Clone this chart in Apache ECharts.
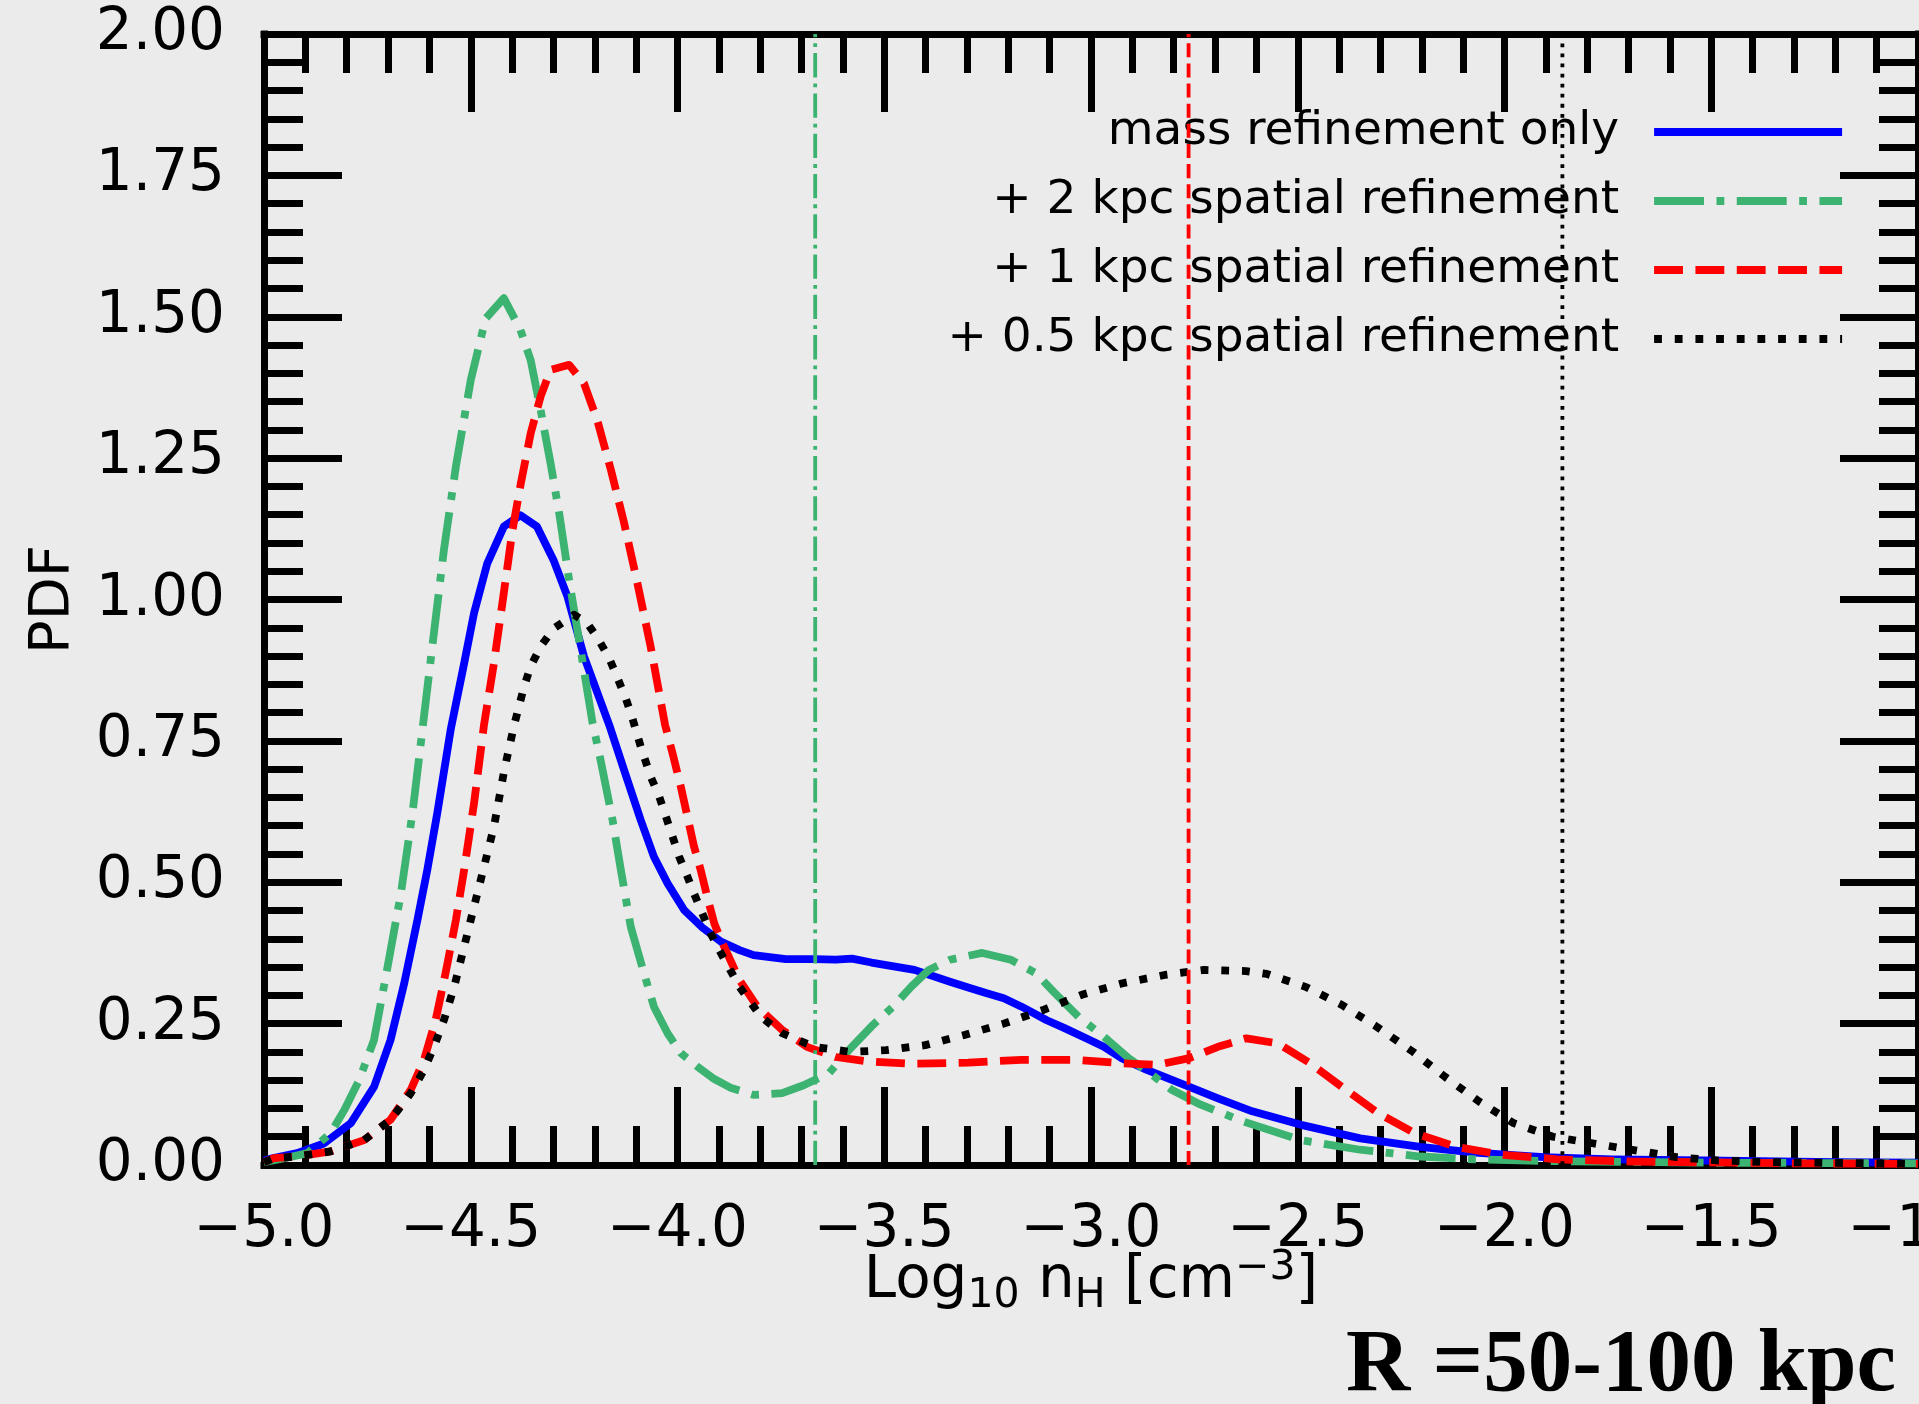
<!DOCTYPE html>
<html><head><meta charset="utf-8">
<script src="https://cdn.jsdelivr.net/npm/echarts@6/dist/echarts.min.js"></script>
<style>html,body{margin:0;padding:0;background:#ebebeb;}#c{width:1919px;height:1404px;}</style>
</head><body><div id="c"></div>
<script>
// ---------- data ----------
const seriesNames = ['mass refinement only', '+ 2 kpc spatial refinement', '+ 1 kpc spatial refinement', '+ 0.5 kpc spatial refinement'];
const xRange = [-5.0, -1.0];
const yRange = [0.0, 2.0];
const xMajorStep = 0.5;
const yMajorStep = 0.25;
const thresholds = [-3.667, -2.764, -1.86]; // vertical lines: 2 kpc, 1 kpc, 0.5 kpc

const massOnly = [[-5.00,0.008],[-4.98,0.012],[-4.92,0.021],[-4.855,0.038],[-4.79,0.074],[-4.734,0.138],[-4.694,0.221],[-4.661,0.321],[-4.629,0.433],[-4.605,0.522],[-4.581,0.622],[-4.548,0.772],[-4.516,0.887],[-4.492,0.976],[-4.46,1.064],[-4.42,1.129],[-4.38,1.149],[-4.34,1.129],[-4.30,1.070],[-4.266,1.005],[-4.226,0.899],[-4.165,0.778],[-4.129,0.698],[-4.089,0.610],[-4.057,0.545],[-4.024,0.498],[-3.984,0.451],[-3.94,0.420],[-3.895,0.395],[-3.85,0.380],[-3.816,0.371],[-3.738,0.364],[-3.667,0.364],[-3.617,0.363],[-3.578,0.365],[-3.531,0.358],[-3.427,0.345],[-3.341,0.324],[-3.297,0.314],[-3.254,0.304],[-3.211,0.295],[-3.168,0.280],[-3.107,0.256],[-3.064,0.242],[-3.012,0.224],[-2.969,0.209],[-2.926,0.189],[-2.865,0.168],[-2.762,0.138],[-2.693,0.118],[-2.61,0.095],[-2.492,0.071],[-2.349,0.047],[-2.204,0.032],[-2.071,0.022],[-1.905,0.014],[-1.739,0.010],[-1.518,0.008],[-1.2,0.005],[-1.0,0.004]];

const spatial2kpc = [[-5.0,0.005],[-4.95,0.012],[-4.895,0.021],[-4.839,0.056],[-4.806,0.097],[-4.77,0.150],[-4.734,0.221],[-4.698,0.363],[-4.669,0.480],[-4.641,0.622],[-4.617,0.769],[-4.593,0.917],[-4.565,1.087],[-4.536,1.235],[-4.50,1.388],[-4.464,1.497],[-4.42,1.533],[-4.38,1.477],[-4.355,1.423],[-4.331,1.335],[-4.307,1.241],[-4.286,1.152],[-4.262,1.034],[-4.238,0.928],[-4.206,0.784],[-4.186,0.716],[-4.157,0.610],[-4.137,0.522],[-4.113,0.421],[-4.081,0.339],[-4.057,0.280],[-4.024,0.233],[-3.992,0.198],[-3.952,0.174],[-3.911,0.152],[-3.87,0.136],[-3.816,0.124],[-3.747,0.127],[-3.695,0.141],[-3.634,0.162],[-3.582,0.206],[-3.531,0.245],[-3.479,0.280],[-3.434,0.316],[-3.392,0.345],[-3.341,0.363],[-3.263,0.375],[-3.194,0.363],[-3.133,0.339],[-3.090,0.306],[-3.030,0.262],[-2.969,0.227],[-2.909,0.189],[-2.857,0.162],[-2.805,0.133],[-2.736,0.107],[-2.632,0.077],[-2.492,0.044],[-2.349,0.027],[-2.204,0.015],[-2.071,0.010],[-1.9,0.007],[-1.5,0.004],[-1.0,0.003]];

const spatial1kpc = [[-5.0,0.005],[-4.976,0.012],[-4.919,0.015],[-4.839,0.024],[-4.758,0.044],[-4.694,0.080],[-4.645,0.133],[-4.613,0.186],[-4.585,0.256],[-4.561,0.339],[-4.536,0.433],[-4.516,0.522],[-4.492,0.640],[-4.468,0.778],[-4.444,0.887],[-4.419,1.017],[-4.399,1.123],[-4.379,1.205],[-4.355,1.294],[-4.331,1.359],[-4.307,1.406],[-4.262,1.415],[-4.226,1.382],[-4.194,1.317],[-4.161,1.229],[-4.129,1.135],[-4.097,1.029],[-4.065,0.917],[-4.03,0.778],[-4.012,0.728],[-3.992,0.669],[-3.976,0.616],[-3.960,0.563],[-3.944,0.522],[-3.928,0.474],[-3.911,0.427],[-3.891,0.392],[-3.850,0.327],[-3.807,0.280],[-3.747,0.239],[-3.687,0.209],[-3.617,0.191],[-3.539,0.183],[-3.427,0.179],[-3.297,0.181],[-3.168,0.186],[-3.038,0.186],[-2.926,0.180],[-2.840,0.177],[-2.762,0.189],[-2.693,0.209],[-2.624,0.224],[-2.548,0.215],[-2.470,0.180],[-2.393,0.138],[-2.304,0.091],[-2.216,0.056],[-2.116,0.032],[-2.005,0.018],[-1.872,0.010],[-1.684,0.006],[-1.3,0.003],[-1.0,0.002]];

const spatialHalfKpc = [[-5.0,0.005],[-4.976,0.012],[-4.919,0.015],[-4.839,0.024],[-4.758,0.044],[-4.694,0.080],[-4.645,0.127],[-4.613,0.168],[-4.589,0.209],[-4.565,0.256],[-4.540,0.315],[-4.516,0.386],[-4.492,0.457],[-4.468,0.527],[-4.444,0.598],[-4.419,0.698],[-4.395,0.778],[-4.371,0.846],[-4.355,0.882],[-4.331,0.917],[-4.299,0.949],[-4.250,0.973],[-4.218,0.958],[-4.190,0.928],[-4.165,0.896],[-4.145,0.861],[-4.125,0.825],[-4.109,0.790],[-4.089,0.740],[-4.065,0.687],[-4.044,0.651],[-4.028,0.616],[-4.012,0.581],[-3.996,0.545],[-3.976,0.510],[-3.960,0.480],[-3.940,0.445],[-3.920,0.410],[-3.899,0.380],[-3.850,0.315],[-3.798,0.262],[-3.747,0.233],[-3.669,0.209],[-3.582,0.200],[-3.496,0.203],[-3.401,0.212],[-3.306,0.230],[-3.211,0.250],[-3.116,0.274],[-3.022,0.301],[-2.926,0.321],[-2.822,0.336],[-2.727,0.345],[-2.625,0.343],[-2.575,0.338],[-2.481,0.315],[-2.393,0.283],[-2.310,0.245],[-2.221,0.200],[-2.144,0.156],[-2.061,0.112],[-1.978,0.074],[-1.883,0.050],[-1.784,0.038],[-1.684,0.026],[-1.585,0.014],[-1.486,0.008],[-1.352,0.005],[-1.0,0.002]];

// ---------- styles ----------
const FONT = 'DejaVu Sans';
const COLORS = ['#0000ff', '#3cb371', '#ff0000', '#000000'];
const LW = 7.8;
const DASHES = ['solid', [6.4*LW, 1.6*LW, 1*LW, 1.6*LW], [3.7*LW, 1.6*LW], [1*LW, 1.65*LW]];
const VLW = 3.8;
const VDASHES = [[6.4*VLW, 1.6*VLW, 1*VLW, 1.6*VLW], [3.7*VLW, 1.6*VLW], [1*VLW, 1.65*VLW]];
const VCOLORS = ['#3cb371', '#ff0000', '#000000'];

const minus = s => s.replace('-', '\u2212');

const axisBase = {
  type: 'value',
  axisLine: {show: true, onZero: false, lineStyle: {color: '#000', width: 7, cap: 'square'}},
  axisTick: {show: true, inside: true, length: 78, lineStyle: {color: '#000', width: 7}},
  minorTick: {show: true, splitNumber: 5, length: 39, lineStyle: {color: '#000', width: 7}},
  splitLine: {show: false},
  minorSplitLine: {show: false},
  nameMoveOverlap: false
};

const curves = [massOnly, spatial2kpc, spatial1kpc, spatialHalfKpc];
const series = curves.map((d, i) => ({
  name: seriesNames[i], type: 'line', data: d,
  symbol: 'none', showSymbol: false, smooth: false,
  lineStyle: {color: COLORS[i], width: LW, type: DASHES[i], cap: 'butt', join: 'round'},
  itemStyle: {color: COLORS[i]},
  z: 3 + i, animation: false
}));
thresholds.forEach((t, i) => {
  series.push({
    name: 'threshold' + i, type: 'line', data: [[t, yRange[0]], [t, yRange[1]]],
    symbol: 'none', showSymbol: false,
    lineStyle: {color: VCOLORS[i], width: VLW, type: VDASHES[i], cap: 'butt'},
    z: 8, animation: false, silent: true
  });
});

const legendData = seriesNames.map((n, i) => ({
  name: n,
  lineStyle: {color: COLORS[i], width: LW, type: DASHES[i], cap: 'butt'},
  itemStyle: {opacity: 0}
}));

const chart = echarts.init(document.getElementById('c'), null, {renderer: 'canvas', width: 1919, height: 1404});
chart.setOption({
  backgroundColor: '#ebebeb',
  animation: false,
  grid: {left: 264, right: 1, top: 34, bottom: 239, containLabel: false, outerBoundsMode: 'none'},
  legend: {
    data: legendData, orient: 'vertical', align: 'right', right: 73, top: 107, padding: 0,
    itemWidth: 188, itemHeight: 14, itemGap: 19, selectedMode: false,
    itemStyle: {opacity: 0},
    lineStyle: {width: LW},
    textStyle: {fontFamily: FONT, fontSize: 47, color: '#000', lineHeight: 50, padding: [0, 30, 0, 0]}
  },
  xAxis: [
    Object.assign({}, axisBase, {
      position: 'bottom', min: xRange[0], max: xRange[1], interval: xMajorStep,
      axisLabel: {show: true, fontFamily: FONT, fontSize: 58, color: '#000', margin: 37,
        showMinLabel: true, showMaxLabel: true, hideOverlap: false,
        formatter: v => minus(v.toFixed(1))},
      name: '{m|Log}{s|10}{m| n}{s|H}{m| [cm}{p|\u22123}{m|]}',
      nameLocation: 'middle', nameGap: 94,
      nameTextStyle: {color: '#000', fontFamily: FONT, rich: {
        m: {fontFamily: FONT, fontSize: 58, lineHeight: 58, padding: [0, 0, 6, 0], verticalAlign: 'bottom', color: '#000'},
        s: {fontFamily: FONT, fontSize: 41, lineHeight: 41, padding: [0, 0, 0, 0], verticalAlign: 'bottom', color: '#000'},
        p: {fontFamily: FONT, fontSize: 41, lineHeight: 41, padding: [0, 0, 28, 0], verticalAlign: 'bottom', color: '#000'}
      }}
    }),
    Object.assign({}, axisBase, {
      position: 'top', min: xRange[0], max: xRange[1], interval: xMajorStep,
      axisLabel: {show: false}
    })
  ],
  yAxis: [
    Object.assign({}, axisBase, {
      position: 'left', min: yRange[0], max: yRange[1], interval: yMajorStep,
      axisLabel: {show: true, fontFamily: FONT, fontSize: 58, color: '#000', margin: 39,
        padding: [10, 0, 0, 0],
        showMinLabel: true, showMaxLabel: true, hideOverlap: false,
        formatter: v => v.toFixed(2)},
      name: 'PDF', nameLocation: 'middle', nameGap: 183,
      nameTextStyle: {color: '#000', fontFamily: FONT, fontSize: 56}
    }),
    Object.assign({}, axisBase, {
      position: 'right', min: yRange[0], max: yRange[1], interval: yMajorStep,
      axisLabel: {show: false}
    })
  ],
  series: series,
  graphic: [{
    type: 'text', left: 1346, top: 1323, z: 100,
    style: {text: 'R =50-100 kpc', font: 'bold 89px "Liberation Serif"', fill: '#000'}
  }]
});
</script></body></html>
